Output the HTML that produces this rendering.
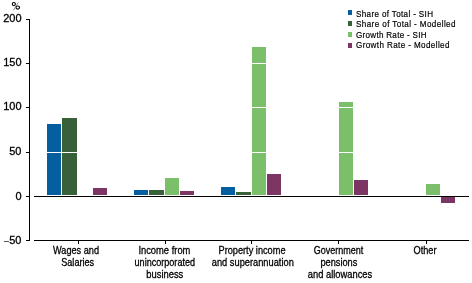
<!DOCTYPE html>
<html><head><meta charset="utf-8">
<style>
html,body{margin:0;padding:0;background:#fff;width:472px;height:283px;overflow:hidden}
svg{display:block;will-change:transform}
text{font-family:"Liberation Sans",sans-serif;fill:#000;stroke:#000}
</style></head>
<body>
<svg width="472" height="283" viewBox="0 0 472 283" shape-rendering="crispEdges">
<!-- bars: category 0 Wages and Salaries -->
<g>
<rect x="47" y="124" width="14" height="71" fill="#045e9f"/>
<rect x="62" y="118" width="15" height="77" fill="#38613a"/>
<rect x="93" y="188" width="14" height="7" fill="#7d3663"/>
</g>
<!-- category 1 -->
<g>
<rect x="134" y="190" width="14" height="5" fill="#045e9f"/>
<rect x="149" y="190" width="15" height="5" fill="#38613a"/>
<rect x="165" y="178" width="14" height="17" fill="#7cbf6a"/>
<rect x="180" y="191" width="14" height="4" fill="#7d3663"/>
</g>
<!-- category 2 -->
<g>
<rect x="221" y="187" width="14" height="8" fill="#045e9f"/>
<rect x="236" y="192" width="15" height="3" fill="#38613a"/>
<rect x="252" y="47" width="14" height="148" fill="#7cbf6a"/>
<rect x="267" y="174" width="14" height="21" fill="#7d3663"/>
</g>
<!-- category 3 -->
<g>
<rect x="339" y="102" width="14" height="93" fill="#7cbf6a"/>
<rect x="354" y="180" width="14" height="15" fill="#7d3663"/>
</g>
<!-- category 4 -->
<g>
<rect x="426" y="184" width="14" height="11" fill="#7cbf6a"/>
<rect x="441" y="196" width="14" height="7" fill="#7d3663"/>
</g>
<!-- white gridlines over bars -->
<rect x="34" y="63" width="435" height="1" fill="#fff"/>
<rect x="34" y="107" width="435" height="1" fill="#fff"/>
<rect x="34" y="152" width="435" height="1" fill="#fff"/>
<!-- zero line & bottom axis -->
<rect x="34" y="196" width="435" height="1" fill="#000"/>
<rect x="34" y="240" width="435" height="1" fill="#000"/>
<!-- y axis -->
<rect x="29" y="19" width="1" height="222" fill="#000"/>
<rect x="26" y="19" width="3" height="1" fill="#000"/>
<rect x="26" y="63" width="3" height="1" fill="#000"/>
<rect x="26" y="107" width="3" height="1" fill="#000"/>
<rect x="26" y="152" width="3" height="1" fill="#000"/>
<rect x="26" y="196" width="3" height="1" fill="#000"/>
<rect x="26" y="240" width="3" height="1" fill="#000"/>
<!-- x ticks -->
<rect x="78" y="241" width="1" height="3" fill="#000"/>
<rect x="165" y="241" width="1" height="3" fill="#000"/>
<rect x="251" y="241" width="1" height="3" fill="#000"/>
<rect x="338" y="241" width="1" height="3" fill="#000"/>
<rect x="426" y="241" width="1" height="3" fill="#000"/>
<!-- legend squares -->
<rect x="348" y="10" width="4" height="5" fill="#045e9f"/>
<rect x="348" y="21" width="4" height="5" fill="#38613a"/>
<rect x="348" y="32" width="4" height="5" fill="#7cbf6a"/>
<rect x="348" y="43" width="4" height="5" fill="#7d3663"/>
<g style="font-size:9.4px;stroke-width:0.2" transform="scale(0.86,1)">
<text x="413.95" y="16.6" textLength="89.53" lengthAdjust="spacing">Share of Total - SIH</text>
<text x="413.95" y="27.2" textLength="115.70" lengthAdjust="spacing">Share of Total - Modelled</text>
<text x="413.95" y="37.9" textLength="81.98" lengthAdjust="spacing">Growth Rate - SIH</text>
<text x="413.95" y="48.5" textLength="108.72" lengthAdjust="spacing">Growth Rate - Modelled</text>
</g>
<!-- y labels -->
<g style="font-size:11px;stroke-width:0.3" text-anchor="end">
<g fill="none" stroke-width="1.1" shape-rendering="geometricPrecision"><ellipse cx="13.85" cy="4.1" rx="1.55" ry="1.6" stroke="#000"/><ellipse cx="17.75" cy="7.55" rx="1.8" ry="1.6" stroke="#000"/><path d="M18.4 2.2 L13.4 10.4" stroke="#777" stroke-width="0.8"/></g>
<text x="21.5" y="22">200</text>
<text x="21.5" y="66">150</text>
<text x="21.5" y="110">100</text>
<text x="21.5" y="155">50</text>
<text x="21.5" y="200">0</text>
<text x="21.5" y="244">50</text><rect x="4" y="240.6" width="5" height="1" fill="#555" stroke="none"/>
</g>
<!-- x labels -->
<g style="font-size:11px;stroke-width:0.3" text-anchor="middle">
<text x="76" y="254" textLength="46" lengthAdjust="spacingAndGlyphs">Wages and</text>
<text x="77.7" y="265.7" textLength="33" lengthAdjust="spacingAndGlyphs">Salaries</text>
<text x="164.4" y="254" textLength="52" lengthAdjust="spacingAndGlyphs">Income from</text>
<text x="164.8" y="266" textLength="60.5" lengthAdjust="spacingAndGlyphs">unincorporated</text>
<text x="164.8" y="277.6" textLength="37" lengthAdjust="spacingAndGlyphs">business</text>
<text x="252" y="254" textLength="67" lengthAdjust="spacingAndGlyphs">Property income</text>
<text x="252.8" y="266" textLength="82" lengthAdjust="spacingAndGlyphs">and superannuation</text>
<text x="338.5" y="254" textLength="49.5" lengthAdjust="spacingAndGlyphs">Government</text>
<text x="338.9" y="266" textLength="37" lengthAdjust="spacingAndGlyphs">pensions</text>
<text x="340" y="277.6" textLength="64.5" lengthAdjust="spacingAndGlyphs">and allowances</text>
<text x="425" y="254" textLength="23" lengthAdjust="spacingAndGlyphs">Other</text>
</g>
</svg>
</body></html>
